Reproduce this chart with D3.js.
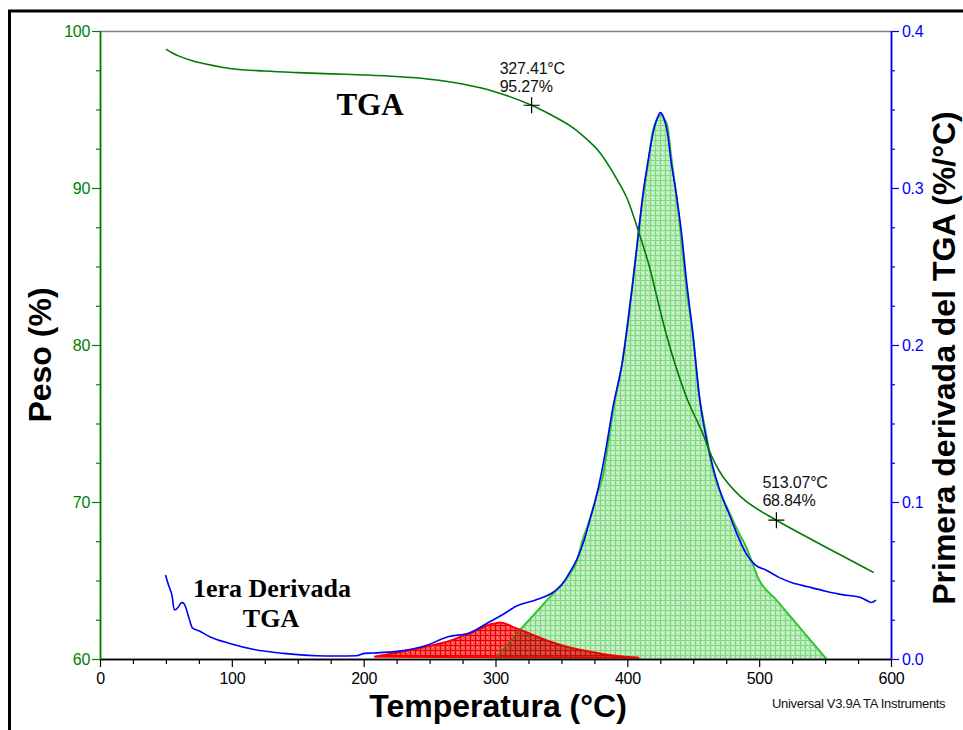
<!DOCTYPE html>
<html>
<head>
<meta charset="utf-8">
<script src="https://cdn.jsdelivr.net/npm/d3@7/dist/d3.min.js"></script>
<style>
  html, body { margin: 0; padding: 0; background: #fff; }
  svg { display: block; }
  text { font-family: "Liberation Sans", Arial, sans-serif; }
</style>
</head>
<body>
<svg id="chart" width="963" height="730"></svg>
<script>
// TGA weight curve: [temperature °C, weight %]
const tgaCurve = [
  [50, 98.85], [55, 98.6], [60, 98.4], [70, 98.1], [80, 97.9], [100, 97.6],
  [125, 97.45], [150, 97.35], [175, 97.27], [200, 97.2], [225, 97.1],
  [250, 96.93], [275, 96.62], [300, 96.12], [327.41, 95.27], [340, 94.75],
  [358.6, 93.85], [370, 93.05], [378.8, 92.3], [393.9, 90.3], [400, 89.3],
  [409, 87.1], [416.7, 85.0], [422.9, 82.9], [429.3, 80.75], [436.9, 78.6],
  [445.7, 76.5], [457, 74.4], [464.6, 72.8], [473.5, 71.5], [490, 70.05],
  [513.07, 68.84], [540, 67.6], [560, 66.7], [575.8, 66.0], [587, 65.5]
];

// First derivative of the TGA: [temperature °C, %/°C]
const dtgCurve = [
  [49.7, 0.0535], [52, 0.047], [54.8, 0.0397], [56.3, 0.0314], [57.5, 0.0316],
  [59.3, 0.033], [61.9, 0.0359], [63.5, 0.0355], [65, 0.033], [67.5, 0.026],
  [70.2, 0.0196], [75, 0.018], [83.3, 0.0142], [98.5, 0.0099], [116, 0.0062],
  [138.9, 0.0036], [164, 0.0021], [180, 0.0019], [194.5, 0.0021], [200.8, 0.0036],
  [207, 0.0038], [227, 0.005], [247, 0.0085], [264, 0.0142], [280, 0.0164],
  [293, 0.0225], [305, 0.028], [316, 0.0338], [330, 0.0374], [344.4, 0.0429],
  [350, 0.047], [355.8, 0.0545], [362, 0.064], [367.3, 0.0758], [372, 0.09],
  [376, 0.102], [380, 0.117], [384, 0.135], [389, 0.16], [396, 0.188],
  [404, 0.239], [408, 0.268], [412, 0.297], [416.7, 0.322], [420, 0.337],
  [423, 0.345], [425, 0.348], [427.5, 0.345], [430.5, 0.335], [433, 0.318],
  [437, 0.297], [441, 0.272], [445, 0.24], [450, 0.205], [454.5, 0.168],
  [460, 0.14], [467, 0.116], [472, 0.103], [477, 0.0928], [483, 0.08],
  [490, 0.0673], [497, 0.06], [505, 0.0567], [515, 0.052], [525, 0.0486],
  [537, 0.046], [550.5, 0.0432], [563, 0.041], [575.8, 0.0395], [582, 0.0371],
  [585, 0.036], [588.6, 0.0375]
];

// Deconvoluted peak 1 (low temperature)
const peakLow = [
  [208, 0.0015], [225, 0.004], [247, 0.0078], [265, 0.0115], [280, 0.0164],
  [290, 0.02], [295.5, 0.022], [300, 0.0228], [303, 0.0232], [307, 0.0227],
  [313, 0.0205], [320.7, 0.018], [330, 0.0148], [338, 0.0121], [350, 0.0088],
  [361, 0.0064], [375, 0.0042], [390, 0.0022], [399, 0.0015], [409, 0.0008]
];

// Deconvoluted peak 2 (main decomposition)
const peakMain = [
  [300, 0], [318.6, 0.0185], [330, 0.029], [341.5, 0.0397], [348.5, 0.046],
  [356, 0.0535], [362, 0.063], [366, 0.0758], [370, 0.085], [374, 0.096],
  [377, 0.105], [381.3, 0.116], [386, 0.14], [390, 0.162], [396.4, 0.19],
  [404, 0.239], [411.6, 0.2924], [415.4, 0.3135], [419, 0.335], [422, 0.343],
  [425.5, 0.3465], [428, 0.344], [430.5, 0.339], [433, 0.322], [435.6, 0.305],
  [439.4, 0.2796], [444.4, 0.239], [449.5, 0.2075], [454.5, 0.168],
  [459.6, 0.144], [465, 0.12], [471, 0.105], [477, 0.094], [483, 0.083],
  [490, 0.0716], [500, 0.0503], [513, 0.0376], [530, 0.0208], [551, 0]
];

// Marked points on the TGA curve
const markTemps = [327.41, 513.07];
const markWeights = [95.27, 68.84];

// Axis ticks
const xMajor = [0, 100, 200, 300, 400, 500, 600];
const yLeftMajor = [60, 70, 80, 90, 100];
const yRightMajor = [0, 0.1, 0.2, 0.3, 0.4];

const svg = d3.select("#chart");
const GREEN = "#008000", BLUE = "#0000ff";

const x = d3.scaleLinear().domain([0, 600]).range([100, 891]);
const yL = d3.scaleLinear().domain([60, 100]).range([659, 31]);
const yR = d3.scaleLinear().domain([0, 0.4]).range([659, 31]);

// Fill patterns
const defs = svg.append("defs");
const pg = defs.append("pattern").attr("id", "meshGreen")
  .attr("patternUnits", "userSpaceOnUse").attr("width", 5).attr("height", 5);
pg.append("rect").attr("width", 5).attr("height", 5).attr("fill", "#b8ebb8");
pg.append("rect").attr("x", 0).attr("y", 0).attr("width", 5).attr("height", 1).attr("fill", "#80d880");
pg.append("rect").attr("x", 0).attr("y", 0).attr("width", 1).attr("height", 5).attr("fill", "#80d880");
pg.append("rect").attr("x", 2).attr("y", 2).attr("width", 1).attr("height", 1).attr("fill", "#ffffff");
pg.append("rect").attr("x", 3).attr("y", 4).attr("width", 1).attr("height", 1).attr("fill", "#e8f8e8");

const pr = defs.append("pattern").attr("id", "meshRed")
  .attr("patternUnits", "userSpaceOnUse").attr("width", 5).attr("height", 5);
pr.append("rect").attr("width", 5).attr("height", 5).attr("fill", "#ff5050");
pr.append("rect").attr("x", 0).attr("y", 0).attr("width", 5).attr("height", 1).attr("fill", "#e80000");
pr.append("rect").attr("x", 0).attr("y", 0).attr("width", 1).attr("height", 5).attr("fill", "#e80000");
pr.append("rect").attr("x", 2).attr("y", 2).attr("width", 1).attr("height", 1).attr("fill", "#ffa0a0");
pr.append("rect").attr("x", 3).attr("y", 4).attr("width", 1).attr("height", 1).attr("fill", "#ff8080");

// Outer frame
svg.append("rect").attr("x", 9.5).attr("y", 11).attr("width", 1200).attr("height", 1200)
  .attr("fill", "none").attr("stroke", "#000").attr("stroke-width", 3);

// Top border of the plot
svg.append("line").attr("x1", x(0)).attr("x2", x(600)).attr("y1", 31.5).attr("y2", 31.5)
  .attr("stroke", "#808080").attr("stroke-width", 1.5);

const lineR = d3.line().x(d => x(d[0])).y(d => yR(d[1])).curve(d3.curveMonotoneX);
const lineL = d3.line().x(d => x(d[0])).y(d => yL(d[1])).curve(d3.curveCatmullRom.alpha(0.5));

// Main peak fill and outline
svg.append("path").attr("d", lineR(peakMain) + "Z").attr("fill", "url(#meshGreen)");
svg.append("path").attr("d", lineR(peakMain)).attr("fill", "none")
  .attr("stroke", "#33c633").attr("stroke-width", 2);

// Low-temperature peak
const lowPath = lineR(peakLow) + "Z";
defs.append("clipPath").attr("id", "lowClip").append("path").attr("d", lowPath);
svg.append("path").attr("d", lowPath).attr("fill", "url(#meshRed)")
  .attr("stroke", "#ff0000").attr("stroke-width", 2);

// Where the two peaks overlap: darker shade and the main-peak outline showing through
svg.append("path").attr("d", lineR(peakMain) + "Z").attr("clip-path", "url(#lowClip)")
  .attr("fill", "#5a3000").attr("fill-opacity", 0.28);
svg.append("path").attr("d", lineR(peakMain)).attr("clip-path", "url(#lowClip)")
  .attr("fill", "none").attr("stroke", "#6a6a10").attr("stroke-width", 1.6);

// Derivative curve
svg.append("path").attr("d", lineR(dtgCurve)).attr("fill", "none")
  .attr("stroke", BLUE).attr("stroke-width", 1.6);

// Weight curve
svg.append("path").attr("d", lineL(tgaCurve)).attr("fill", "none")
  .attr("stroke", "#007a00").attr("stroke-width", 1.6);

// Axes
function styleAxis(g, color, size) {
  g.select(".domain").attr("stroke", color).attr("stroke-width", 1.5);
  g.selectAll(".tick line").attr("stroke", color).attr("stroke-width", 1.2);
  g.selectAll(".tick text").attr("fill", color)
    .style("font-family", "'Liberation Sans', Arial, sans-serif")
    .style("font-size", size + "px").style("letter-spacing", "-0.3px");
}

// bottom
const xMinor = d3.range(0, 601, 25).filter(v => !xMajor.includes(v));
svg.append("g").attr("transform", "translate(0,659)")
  .call(d3.axisBottom(x).tickValues(xMinor).tickSize(5).tickSizeOuter(0).tickFormat(""))
  .call(g => styleAxis(g, "#000", 16));
svg.append("g").attr("transform", "translate(0,659)")
  .call(d3.axisBottom(x).tickValues(xMajor).tickSize(8).tickSizeOuter(0).tickPadding(6).tickFormat(d3.format("d")))
  .call(g => styleAxis(g, "#000", 16));

// left
const yLMinor = d3.range(60, 100.01, 2.5).filter(v => !yLeftMajor.includes(v));
svg.append("g").attr("transform", "translate(100,0)")
  .call(d3.axisLeft(yL).tickValues(yLMinor).tickSize(4).tickSizeOuter(0).tickFormat(""))
  .call(g => styleAxis(g, GREEN, 16));
svg.append("g").attr("transform", "translate(100,0)")
  .call(d3.axisLeft(yL).tickValues(yLeftMajor).tickSize(8).tickSizeOuter(0).tickPadding(2).tickFormat(d3.format("d")))
  .call(g => styleAxis(g, GREEN, 16));

// right
const yRMinor = d3.range(0, 0.4001, 0.025).filter(v => !yRightMajor.some(m => Math.abs(m - v) < 1e-9));
svg.append("g").attr("transform", "translate(891,0)")
  .call(d3.axisRight(yR).tickValues(yRMinor).tickSize(4).tickSizeOuter(0).tickFormat(""))
  .call(g => styleAxis(g, BLUE, 16));
svg.append("g").attr("transform", "translate(891,0)")
  .call(d3.axisRight(yR).tickValues(yRightMajor).tickSize(8).tickSizeOuter(0).tickPadding(3).tickFormat(d3.format(".1f")))
  .call(g => styleAxis(g, BLUE, 16));

// Axis titles
svg.append("text").attr("x", 498).attr("y", 717).attr("text-anchor", "middle")
  .style("font-size", "32px").style("font-weight", "bold").text("Temperatura (°C)");
svg.append("text").attr("transform", "translate(51,355) rotate(-90)").attr("text-anchor", "middle")
  .style("font-size", "32px").style("font-weight", "bold").text("Peso (%)");
svg.append("text").attr("transform", "translate(955,358) rotate(-90)").attr("text-anchor", "middle")
  .style("font-size", "32px").style("font-weight", "bold").text("Primera derivada del TGA (%/°C)");

// Curve labels
const serif = "'Liberation Serif', 'Times New Roman', serif";
svg.append("text").attr("x", 370).attr("y", 115).attr("text-anchor", "middle")
  .style("font-family", serif).style("font-size", "31px").style("font-weight", "bold").text("TGA");
svg.append("text").attr("x", 272).attr("y", 597).attr("text-anchor", "middle")
  .style("font-family", serif).style("font-size", "26px").style("font-weight", "bold").text("1era Derivada");
svg.append("text").attr("x", 271).attr("y", 627).attr("text-anchor", "middle")
  .style("font-family", serif).style("font-size", "26px").style("font-weight", "bold").text("TGA");

// Marked points, with their readout placed up-left of the cross
const readoutOffset = [[-32, -31], [-14, -32]];
markTemps.forEach((t, i) => {
  const w = markWeights[i];
  const cx = x(t), cy = yL(w);
  svg.append("path").attr("d", `M${cx - 8},${cy}H${cx + 8}M${cx},${cy - 8}V${cy + 8}`)
    .attr("stroke", "#000").attr("stroke-width", 1.2);
  const tx = cx + readoutOffset[i][0], ty = cy + readoutOffset[i][1];
  svg.append("text").attr("x", tx).attr("y", ty).style("font-size", "16px")
    .style("letter-spacing", "-0.2px").attr("fill", "#111").text(`${t.toFixed(2)}°C`);
  svg.append("text").attr("x", tx).attr("y", ty + 17.5).style("font-size", "16px")
    .style("letter-spacing", "-0.2px").attr("fill", "#111").text(`${w.toFixed(2)}%`);
});

// Instrument footer
svg.append("text").attr("x", 772).attr("y", 708).style("font-size", "13px")
  .style("letter-spacing", "-0.3px").attr("fill", "#111").text("Universal V3.9A TA Instruments");
</script>
</body>
</html>
